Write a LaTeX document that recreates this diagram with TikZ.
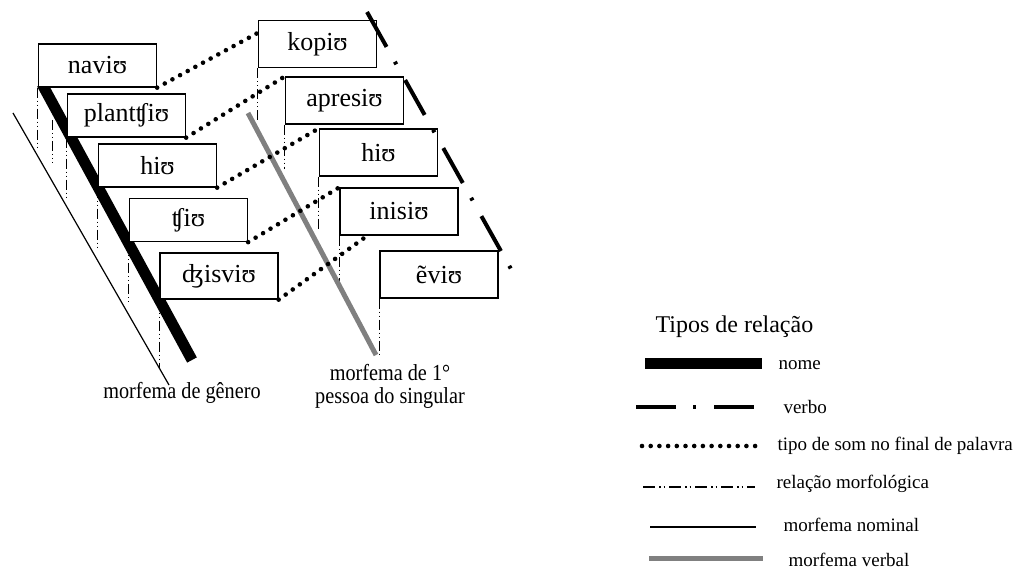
\documentclass[tikz,border=0pt]{standalone}
\usepackage{fontspec}
\setmainfont{Liberation Serif}
\newfontfamily\narrowserif{Liberation Serif}[FakeStretch=0.88]
\usetikzlibrary{calc,backgrounds}
\definecolor{verbgray}{RGB}{128,128,128}
\tikzset{
  wbox/.style={draw, line width=1.3pt, fill=white, inner sep=0pt,
    minimum width=118pt, font=\fontsize{26}{30}\selectfont},
  lbox/.style={wbox, minimum height=43pt},
  rbox/.style={wbox, minimum height=47pt},
  nome/.style={line width=11pt},
  verbal/.style={line width=5pt, color=verbgray},
  nominal/.style={line width=1.2pt},
  som/.style={line width=4.6pt, line cap=round, dash pattern=on 0pt off 8.7pt},
  verbo/.style={line width=4pt, dash pattern=on 40pt off 17pt on 3pt off 18pt},
  morf/.style={line width=0.8pt,
    dash pattern=on 10pt off 3pt on 1pt off 3pt on 1pt off 3pt},
  lab/.style={font=\narrowserif\fontsize{23}{23}\selectfont, align=center},
  legtxt/.style={anchor=west, font=\fontsize{19}{22}\selectfont},
}
\begin{document}
\begin{tikzpicture}[x=1pt,y=-1pt]
\useasboundingbox (0,0) rectangle (1016,569);

% word boxes: nouns (left) and verbs (right)
\node[lbox] (navi)   at (97.5,65.5)  {naviʊ};
\node[lbox] (plant)  at (126.5,115.5) {plantʧiʊ};
\node[lbox] (hiL)    at (157.5,165.5) {hiʊ};
\node[lbox] (tshi)   at (188.5,220)  {ʧiʊ};
\node[lbox, minimum height=46pt] (dzhi) at (219,276) {ʤisviʊ};
\node[rbox] (kopi)   at (317.5,44)   {kopiʊ};
\node[rbox] (apresi) at (344.5,100.5) {apresiʊ};
\node[rbox] (hiR)    at (378.5,152.5) {hiʊ};
\node[rbox] (inisi)  at (399,211.5)  {inisiʊ};
\node[rbox] (evi)    at (439,274.5)  {ẽviʊ};

% morpheme axes
\coordinate (nomA) at (13,113);
\coordinate (nomB) at (169,385);
\coordinate (genA) at (42,84);
\coordinate (genB) at (192,360);
\coordinate (verA) at (248,113);
\coordinate (verB) at (376,355);
\coordinate (extA) at (52,120);
\coordinate (extB) at (52,163);
\coordinate (vbA)  at (367,12);
\coordinate (vbB)  at (511,269);

\begin{pgfonlayer}{background}
  \draw[nominal] (nomA) -- (nomB);
  % morphological relations
  \draw[morf] (navi.south west)  -- ++(0,62);
  \draw[morf] (extA) -- (extB);
  \draw[morf] (plant.south west) -- ++(0,60);
  \draw[morf] (hiL.south west)   -- ++(0,63);
  \draw[morf] (tshi.south west)  -- ++(0,62);
  \draw[morf] (dzhi.south west)  -- ++(0,68);
  \draw[morf] (kopi.south west)   -- ++(0,55);
  \draw[morf] (apresi.south west) -- ++(0,44);
  \draw[morf] (hiR.south west)    -- ++(0,54);
  \draw[morf] (inisi.south west)  -- ++(0,55);
  \draw[morf] (evi.south west)    -- ++(0,59);
  \draw[nome] (genA) -- (genB);
  \draw[verbal] (verA) -- (verB);
\end{pgfonlayer}

% word-final sound links
\draw[som] (navi.south east)  -- ($(kopi.north west)+(0,13)$);
\draw[som] (plant.south east) -- (apresi.north west);
\draw[som] (hiL.south east)   -- (hiR.north west);
\draw[som] (tshi.south east)  -- (inisi.north west);
\draw[som] (dzhi.south east)  -- ($(inisi.south west)+(28,0)$);

% verb relation
\draw[verbo] (vbA) -- (vbB);

% axis labels
\node[lab] (gen)  at (182,393) {morfema de gênero};
\node[lab] (pess) at (390,386) {morfema de 1°\\pessoa do singular};

% legend
\node[legtxt, font=\fontsize{24}{26}\selectfont] (ltit) at (652,327) {Tipos de relação};
\node[legtxt] (lnome) at (775,365) {nome};
\node[legtxt] (lverb) at (780,407) {verbo};
\node[legtxt] (lsom)  at (774,446) {tipo de som no final de palavra};
\node[legtxt] (lmorf) at (773,484) {relação morfológica};
\node[legtxt] (lnomi) at (780,525) {morfema nominal};
\node[legtxt] (lverl) at (785,560) {morfema verbal};
\draw[nome]    (645,363) -- (762,363);
\draw[verbo]   (636,407) -- (755,407);
\draw[som]     (642,446) -- (757,446);
\draw[morf, line width=1.3pt, dash pattern=on 12pt off 4pt on 1.5pt off 3pt on 1.5pt off 4pt]
               (643,487) -- (755,487);
\draw[nominal] (650,527) -- (756,527);
\draw[verbal]  (649,558) -- (763,558);
\end{tikzpicture}
\end{document}
